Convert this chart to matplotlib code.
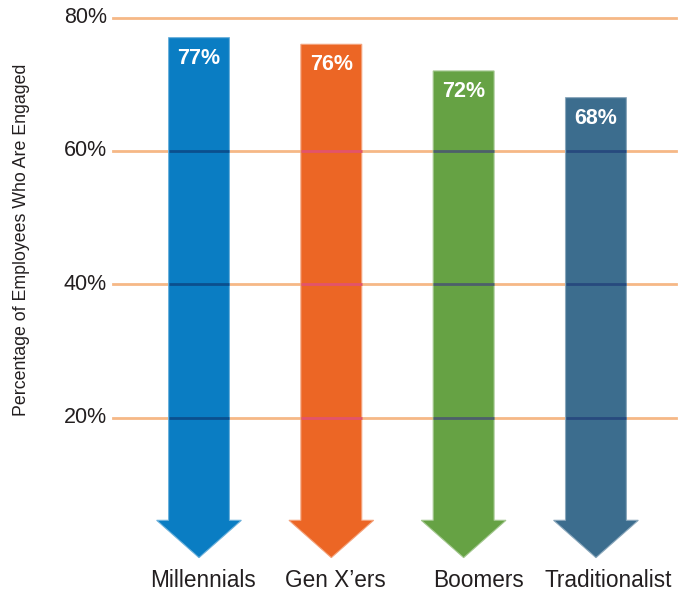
import matplotlib
matplotlib.use("Agg")
import matplotlib.pyplot as plt
from matplotlib.patches import Polygon
from matplotlib import colors as mcolors
import numpy as np

categories = ["Millennials", "Gen X\u2019ers", "Boomers", "Traditionalist"]
values = [77, 76, 72, 68]
value_labels = ["77%", "76%", "72%", "68%"]
yticks = [20, 40, 60, 80]
ytick_labels = ["20%", "40%", "60%", "80%"]

# styles
bar_colors = ["#0A7DC3", "#EC6625", "#66A244", "#3C6D8E"]
overlay_colors = ["#0B4F8E", "#E2546B", "#4D5F6B", "#274A7E"]
grid_color = "#F6B886"
label_nudge = [0.03, 0.03, 0.11, 0.09]

fig = plt.figure(figsize=(6.89, 5.93), dpi=100)
ax = fig.add_axes([113/689, 1-564.3/593, (676-113)/689, 560/593])
ax.set_xlim(-0.65, 3.605)
ax.set_ylim(-2, 82)
for s in ax.spines.values():
    s.set_visible(False)
ax.set_xticks([])
ax.set_yticks([])

body_hw = 0.23
head_hw = 0.32
head_top = 4.6
tip = -1.0

for i, (v, c) in enumerate(zip(values, bar_colors)):
    pts = [(i - body_hw, v), (i + body_hw, v), (i + body_hw, head_top),
           (i + head_hw, head_top), (i, tip), (i - head_hw, head_top),
           (i - body_hw, head_top)]
    rgb = np.array(mcolors.to_rgb(c))
    edge = 0.6 * rgb + 0.4
    ax.add_patch(Polygon(pts, closed=True, facecolor=c, edgecolor=edge, lw=0.8,
                         zorder=2))
    ax.text(i, v - 3.1, value_labels[i], ha="center", va="center", color="white",
            fontsize=15.5, fontweight="bold", family="Liberation Sans",
            zorder=4)
    for yt in yticks:
        if yt < v:
            ax.plot([i - body_hw, i + body_hw], [yt, yt], color=overlay_colors[i],
                    lw=2, zorder=3, solid_capstyle="butt")

for yt, lab in zip(yticks, ytick_labels):
    ax.axhline(yt, color=grid_color, lw=2, zorder=1, clip_on=False)
    ax.text(-0.695, yt, lab, ha="right", va="center", fontsize=15.5,
            family="Liberation Sans", color="#231F20")

for i, cat in enumerate(categories):
    ax.text(i + label_nudge[i], -4.5, cat, ha="center", va="center", fontsize=16.3,
            family="Liberation Sans", color="#231F20", clip_on=False)

fig.text(22/689, 1-240/593, "Percentage of Employees Who Are Engaged", rotation=90,
         ha="center", va="center", fontsize=12.8, family="Liberation Sans",
         color="#231F20")

fig.savefig("out.png", dpi=100)
